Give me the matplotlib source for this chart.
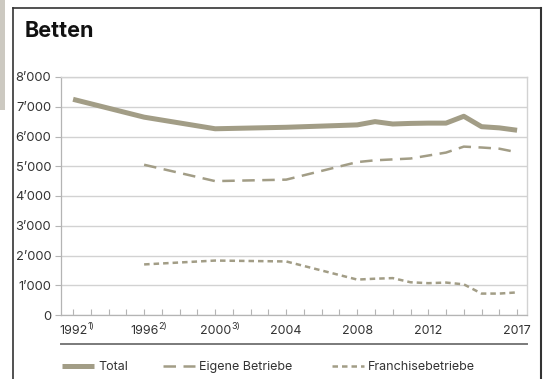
import matplotlib
matplotlib.use("Agg")
import matplotlib.pyplot as plt
from matplotlib.lines import Line2D
from matplotlib.patches import Rectangle
from matplotlib.ticker import FuncFormatter

plt.rcParams['font.family'] = ['Inter', 'DejaVu Sans']

# Bettenzahlen
years_total = [1992, 1996, 2000, 2004, 2008, 2009, 2010, 2011, 2012, 2013, 2014, 2015, 2016, 2017]
total = [7250, 6650, 6260, 6310, 6390, 6500, 6420, 6440, 6450, 6450, 6680, 6330, 6290, 6210]

years_split = [1996, 2000, 2004, 2008, 2009, 2010, 2011, 2012, 2013, 2014, 2015, 2016, 2017]
eigene = [5050, 4500, 4550, 5140, 5200, 5230, 5260, 5360, 5460, 5660, 5630, 5590, 5470]
franchise = [1700, 1830, 1800, 1190, 1220, 1240, 1100, 1070, 1090, 1030, 720, 720, 760]

labelled_years = [1992, 1996, 2000, 2004, 2008, 2012, 2017]
footnotes = {1992: "1)", 1996: "2)", 2000: "3)"}
y_ticks = [0, 1000, 2000, 3000, 4000, 5000, 6000, 7000, 8000]

LINE = '#a29d86'
TEXT = '#333333'
GRID = '#d2d2d2'
AXIS = '#b4b4b4'
FRAME = '#333333'

W, H = 547, 379
fig = plt.figure(figsize=(W / 100, H / 100), dpi=100)

# outer frame and side marker
fig.add_artist(Rectangle((0, 1 - 110 / H), 5 / W, 110 / H, transform=fig.transFigure,
                         facecolor='#ccc9c1', edgecolor='none'))
fx0, fx1, fy = 12.5 / W, 540.5 / W, 1 - 7.5 / H
fig.add_artist(Line2D([fx0, fx0], [0, fy], transform=fig.transFigure, color=FRAME, lw=1.2))
fig.add_artist(Line2D([fx0, fx1], [fy, fy], transform=fig.transFigure, color=FRAME, lw=1.2))
fig.add_artist(Line2D([fx1, fx1], [0, fy], transform=fig.transFigure, color=FRAME, lw=1.5))

fig.text(25 / W, 1 - 31 / H, "Betten", fontsize=15.5, fontweight='bold', color='#111111',
         ha='left', va='center')

left, right, top, bottom = 61 / W, 526.5 / W, 77 / H, 315 / H
ax = fig.add_axes([left, 1 - bottom, right - left, bottom - top])

series = [
    (years_total, total, 'Total', dict(lw=3.6, linestyle='-', solid_capstyle='butt',
                                       solid_joinstyle='round')),
    (years_split, eigene, 'Eigene Betriebe', dict(lw=1.8, linestyle=(0, (5, 3)),
                                                  dash_capstyle='butt')),
    (years_split, franchise, 'Franchisebetriebe', dict(lw=1.8, linestyle=(0, (2.2, 1.6)),
                                                       dash_capstyle='butt')),
]
for xs, ys, name, style in series:
    ax.plot(xs, ys, color=LINE, label=name, **style)

ax.set_xlim(1991.32, 2017.53)
ax.set_ylim(0, 8000)

ax.set_yticks(y_ticks)
ax.yaxis.set_major_formatter(FuncFormatter(
    lambda v, p: "0" if v == 0 else f"{int(v):,}".replace(",", "\u2019")))
ax.grid(axis='y', color=GRID, lw=1.0)
ax.set_axisbelow(True)

all_years = list(range(1992, 2018))
ax.set_xticks(all_years)
ax.set_xticklabels([str(y) if y in labelled_years else "" for y in all_years])

ax.tick_params(axis='x', direction='in', length=4, width=0.8, color=AXIS, pad=7,
               labelsize=9, labelcolor=TEXT)
ax.tick_params(axis='y', direction='out', length=4, width=0.8, color=AXIS, pad=3,
               labelsize=9.3, labelcolor=TEXT)

for side in ['left', 'bottom']:
    ax.spines[side].set_color(AXIS)
    ax.spines[side].set_linewidth(0.9)
for side in ['top', 'right']:
    ax.spines[side].set_color(GRID)
    ax.spines[side].set_linewidth(1.0)

# footnote markers placed just right of their year labels
fig.canvas.draw()
renderer = fig.canvas.get_renderer()
inv = fig.transFigure.inverted()
for lbl, yr in zip(ax.get_xticklabels(), all_years):
    if yr in footnotes:
        bb = lbl.get_window_extent(renderer)
        x_fig, y_fig = inv.transform((bb.x1 + 0.3, bb.y1 + 2.5))
        fig.text(x_fig, y_fig, footnotes[yr], fontsize=6.5, color=TEXT, ha='left', va='top')

# separator above legend
fig.add_artist(Line2D([61 / W, 527 / W], [1 - 344 / H, 1 - 344 / H], transform=fig.transFigure,
                      color='#7a7a7a', lw=1.4))

# legend row
handles = ax.get_lines()
legend_x = [62, 163, 332]
for (xs, ys, name, style), h, x0 in zip(series, handles, legend_x):
    leg = fig.legend([h], [name], loc='center left', bbox_to_anchor=(x0 / W, 1 - 367 / H),
                     frameon=False, fontsize=9, handlelength=2.55, handletextpad=0.35,
                     borderpad=0, borderaxespad=0, labelcolor=TEXT)

fig.savefig("out.png", dpi=100)
